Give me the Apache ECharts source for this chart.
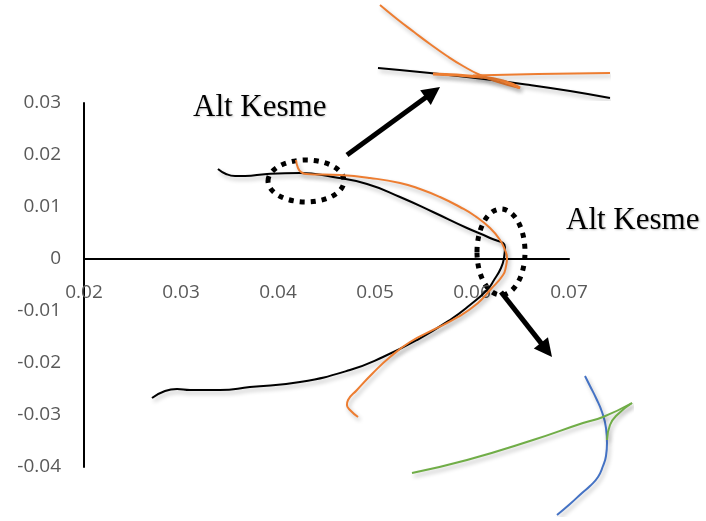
<!DOCTYPE html>
<html>
<head>
<meta charset="utf-8">
<script src="https://cdn.jsdelivr.net/npm/echarts@6/dist/echarts.min.js"></script>
<style>
  html, body { margin: 0; padding: 0; background: #fff; }
  #chart { width: 706px; height: 521px; }
</style>
</head>
<body>
<div id="chart"></div>
<script>
// Axis tick labels
var xTickLabels = ['0.02', '0.03', '0.04', '0.05', '0.06', '0.07'];
var yTickLabels = ['-0.04', '-0.03', '-0.02', '-0.01', '0', '0.01', '0.02', '0.03'];

// Main trajectories [x, y]
var blackPath = [
  [0.03381, 0.01731], [0.03464, 0.01635], [0.03557, 0.01596], [0.03660, 0.01596],
  [0.03887, 0.01635], [0.04227, 0.01654], [0.04567, 0.01577], [0.04918, 0.01442],
  [0.05258, 0.01192], [0.05598, 0.00904], [0.05948, 0.00596], [0.06186, 0.00404],
  [0.06340, 0.00231], [0.06330, 0.00019], [0.06299, -0.00173], [0.06227, -0.00404],
  [0.06155, -0.00596], [0.05979, -0.00885], [0.05773, -0.01173], [0.05433, -0.01558],
  [0.05082, -0.01885], [0.04742, -0.02135], [0.04227, -0.02365], [0.03711, -0.02462],
  [0.03402, -0.02519], [0.03093, -0.02519], [0.02959, -0.02500], [0.02835, -0.02538],
  [0.02701, -0.02673]
];
var orangePath = [
  [0.04186, 0.01904], [0.04206, 0.01750], [0.04237, 0.01673], [0.04289, 0.01635],
  [0.04639, 0.01615], [0.04948, 0.01558], [0.05258, 0.01462], [0.05464, 0.01346],
  [0.05670, 0.01192], [0.05876, 0.01000], [0.06031, 0.00827], [0.06186, 0.00596],
  [0.06289, 0.00365], [0.06340, 0.00173], [0.06361, 0.00019],
  [0.06351, -0.00135], [0.06320, -0.00308], [0.06186, -0.00596], [0.06062, -0.00846],
  [0.05856, -0.01115], [0.05598, -0.01365], [0.05361, -0.01596], [0.05155, -0.01885],
  [0.04979, -0.02192], [0.04814, -0.02519], [0.04722, -0.02712], [0.04711, -0.02808],
  [0.04742, -0.02904], [0.04825, -0.03038]
];

// Upper detail view (local units)
var upBlack = [[0, 68], [52, 73], [102, 78.5], [152, 85], [192, 91], [232, 98]];
var upOrangeArc = [[2, 5], [19, 19], [36, 32], [52, 44], [69, 56], [85, 66], [102, 75], [120, 82], [142, 88]];
var upOrangeTail = [[55, 74], [102, 77], [125, 81], [142, 88]];
var upOrangeFlat = [[95, 75.5], [160, 74], [232, 73]];

// Lower detail view (local units)
var lowBlue = [[173, 0], [178, 10], [184, 22], [190, 36], [194, 52], [195, 67], [194, 80],
  [191, 90], [186, 101], [178, 110], [170, 117], [158, 128], [145, 139]];
var lowGreen = [[0, 97], [55, 84], [121, 64], [171, 47], [191, 41], [220, 27]];
var lowGreenHook = [[220, 27], [205, 39], [198, 49], [195, 64]];

var BLACK = '#000000', ORANGE = '#ED7D31', BLUE = '#4472C4', GREEN = '#70AD47';

var chart = echarts.init(document.getElementById('chart'), null, { renderer: 'canvas' });

function lineSeries(data, color, width, gi) {
  return {
    type: 'line',
    data: data,
    xAxisIndex: gi,
    yAxisIndex: gi,
    showSymbol: false,
    symbol: 'none',
    smooth: 0.5,
    silent: true,
    animation: false,
    lineStyle: {
      color: color,
      width: width,
      shadowColor: 'rgba(0,0,0,0.28)',
      shadowBlur: 4,
      shadowOffsetX: 2,
      shadowOffsetY: 3
    }
  };
}

function hiddenAxis(gi, max, inverse) {
  return { type: 'value', gridIndex: gi, min: 0, max: max, inverse: !!inverse, show: false };
}

// Arrow built from a tail and a tip point
function arrow(x1, y1, x2, y2) {
  var dx = x2 - x1, dy = y2 - y1, len = Math.sqrt(dx * dx + dy * dy);
  var ux = dx / len, uy = dy / len, hl = 18, hw = 9;
  var bx = x2 - ux * hl, by = y2 - uy * hl;
  return [
    { type: 'line', silent: true,
      shape: { x1: x1, y1: y1, x2: x2 - ux * (hl - 2), y2: y2 - uy * (hl - 2) },
      style: { stroke: '#000', lineWidth: 5 } },
    { type: 'polygon', silent: true,
      shape: { points: [[x2, y2], [bx - uy * hw, by + ux * hw], [bx + uy * hw, by - ux * hw]] },
      style: { fill: '#000' } }
  ];
}

var labelFont = { color: '#595959', fontSize: 19, fontFamily: 'Open Sans' };
var titleStyle = {
  fill: '#000', fontSize: 31, fontFamily: 'Liberation Serif',
  textShadowColor: 'rgba(0,0,0,0.25)', textShadowBlur: 2, textShadowOffsetX: 1, textShadowOffsetY: 1
};

// Plot area: y = 0 sits 3/7 of the way down, the x axis is drawn there
var plotTop = 103, plotHeight = 364;
var zeroOffset = plotHeight * 4 / 7;

var option = {
  backgroundColor: '#ffffff',
  animation: false,
  grid: [
    { left: 84, top: plotTop, width: 485, height: plotHeight },
    { left: 378, top: 0, width: 232, height: 100 },
    { left: 412, top: 376, width: 221, height: 140 }
  ],
  xAxis: [
    {
      type: 'value', gridIndex: 0, min: 0.02, max: 0.07, interval: 0.01,
      position: 'bottom', offset: -zeroOffset,
      axisLine: { onZero: false, lineStyle: { color: '#000', width: 2 } },
      axisTick: { show: false },
      splitLine: { show: false },
      axisLabel: Object.assign({
        margin: 24,
        showMinLabel: true, showMaxLabel: true,
        formatter: function (v) { return xTickLabels[Math.round((v - 0.02) / 0.01)]; }
      }, labelFont)
    },
    hiddenAxis(1, 232),
    hiddenAxis(2, 221)
  ],
  yAxis: [
    {
      type: 'value', gridIndex: 0, min: -0.04, max: 0.03, interval: 0.01,
      axisLine: { show: true, onZero: false, lineStyle: { color: '#000', width: 2 } },
      axisTick: { show: false },
      splitLine: { show: false },
      axisLabel: Object.assign({
        margin: 23,
        showMinLabel: true, showMaxLabel: true,
        formatter: function (v) { return yTickLabels[Math.round((v + 0.04) / 0.01)]; }
      }, labelFont)
    },
    hiddenAxis(1, 100, true),
    hiddenAxis(2, 140, true)
  ],
  series: [
    lineSeries(blackPath, BLACK, 2, 0),
    lineSeries(orangePath, ORANGE, 2, 0),
    lineSeries(upBlack, BLACK, 2, 1),
    lineSeries(upOrangeArc, ORANGE, 2, 1),
    lineSeries(upOrangeTail, ORANGE, 3, 1),
    lineSeries(upOrangeFlat, ORANGE, 2, 1),
    lineSeries(lowBlue, BLUE, 2, 2),
    lineSeries(lowGreen, GREEN, 2, 2),
    lineSeries(lowGreenHook, GREEN, 2, 2)
  ],
  graphic: [
    { type: 'ellipse', silent: true, shape: { cx: 306, cy: 181, rx: 38, ry: 21 },
      style: { fill: 'none', stroke: '#000', lineWidth: 5, lineDash: [5, 6] } },
    { type: 'ellipse', silent: true, shape: { cx: 501, cy: 252, rx: 24, ry: 43 },
      style: { fill: 'none', stroke: '#000', lineWidth: 5, lineDash: [5, 6] } },
    { type: 'text', silent: true, x: 193, y: 108,
      style: Object.assign({ text: 'Alt Kesme', verticalAlign: 'middle' }, titleStyle) },
    { type: 'text', silent: true, x: 566, y: 221,
      style: Object.assign({ text: 'Alt Kesme', verticalAlign: 'middle' }, titleStyle) }
  ].concat(arrow(347, 155, 440, 87)).concat(arrow(501, 292, 552, 357))
};

chart.setOption(option);
</script>
</body>
</html>
